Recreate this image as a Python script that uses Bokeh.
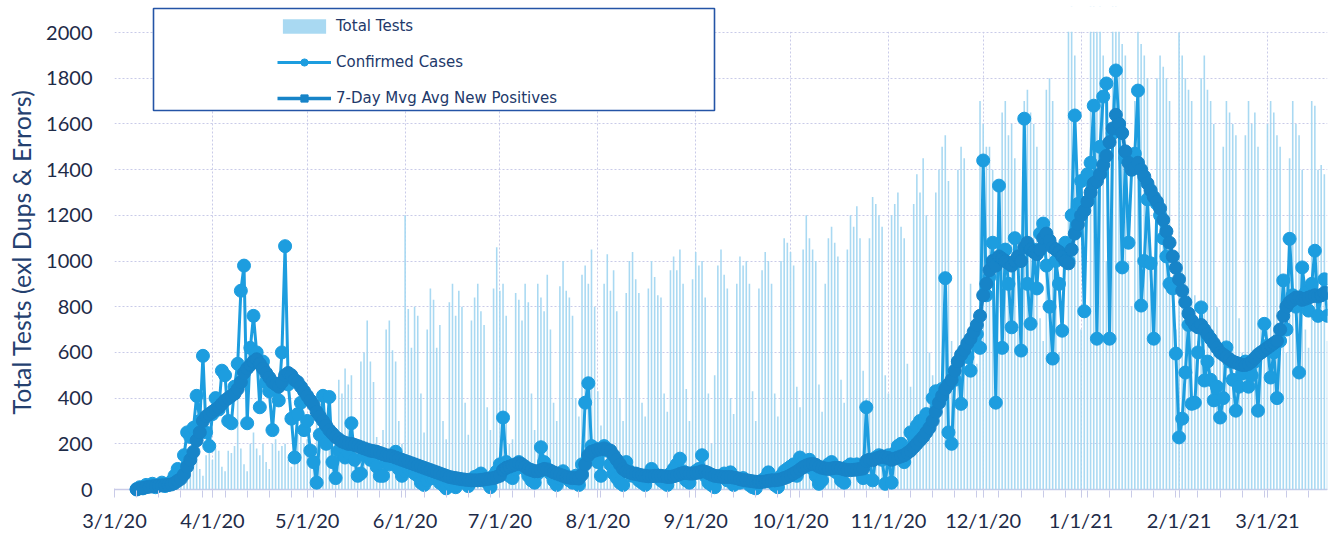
from datetime import datetime
from bokeh.plotting import figure
from bokeh.models import (ColumnDataSource, Range1d, FixedTicker, Legend, LegendItem,
                          BoxAnnotation, Span)
from bokeh.embed import file_html
from bokeh.resources import INLINE

# ---------------- data ----------------
first_day = "3/8/20"
tick_labels = ["3/1/20", "4/1/20", "5/1/20", "6/1/20", "7/1/20", "8/1/20", "9/1/20",
               "10/1/20", "11/1/20", "12/1/20", "1/1/21", "2/1/21", "3/1/21"]
y_ticks = [0, 200, 400, 600, 800, 1000, 1200, 1400, 1600, 1800, 2000]
y_max = 2000

# daily totals, one row per week (Sun..Sat), 3/8/20 .. 3/20/21
total_tests = [
    0, 0, 0, 0, 0, 0, 0,
    0, 0, 0, 10, 20, 30, 20,
    40, 120, 130, 150, 140, 170, 90,
    60, 150, 160, 130, 180, 170, 100,
    80, 170, 160, 190, 400, 180, 110,
    80, 200, 250, 180, 150, 200, 120,
    90, 200, 220, 170, 190, 200, 130,
    100, 210, 240, 380, 200, 220, 130,
    110, 300, 350, 380, 300, 250, 150,
    120, 480, 420, 530, 460, 500, 200,
    150, 560, 600, 740, 560, 470, 230,
    120, 260, 700, 740, 610, 560, 300,
    200, 1200, 790, 620, 800, 760, 420,
    250, 700, 880, 830, 620, 720, 300,
    220, 820, 900, 760, 870, 800, 380,
    240, 740, 840, 900, 780, 720, 360,
    260, 880, 1060, 870, 900, 760, 200,
    220, 860, 830, 740, 900, 820, 420,
    260, 900, 840, 780, 940, 700, 380,
    300, 890, 1000, 870, 840, 760, 400,
    320, 940, 980, 900, 1050, 800, 430,
    280, 900, 1030, 870, 960, 780, 400,
    300, 860, 1000, 1040, 920, 860, 380,
    320, 880, 1000, 930, 850, 840, 420,
    340, 960, 1020, 960, 1050, 900, 440,
    300, 920, 1040, 980, 1000, 840, 420,
    200, 500, 980, 1050, 940, 880, 400,
    330, 900, 1020, 980, 1000, 900, 430,
    300, 880, 960, 1040, 1000, 900, 420,
    320, 1000, 1100, 1080, 1040, 980, 450,
    360, 1050, 1200, 1100, 1050, 1000, 460,
    340, 900, 1100, 1150, 1080, 1020, 480,
    380, 1050, 1200, 1150, 1240, 1100, 520,
    400, 1100, 1280, 1250, 1200, 1150, 500,
    420, 1200, 1250, 1300, 1150, 1100, 550,
    450, 1250, 1380, 1300, 1450, 1200, 600,
    500, 1300, 1400, 1500, 1550, 1350, 650,
    520, 1400, 1500, 1450, 600, 900, 650,
    550, 1700, 1600, 1500, 1500, 1400, 700,
    600, 1650, 1700, 1550, 1600, 1450, 700,
    620, 1700, 1750, 1650, 1600, 1500, 750,
    650, 1750, 1800, 1700, 900, 600, 700,
    700, 2100, 2200, 1900, 1100, 700, 1000,
    800, 2200, 2300, 2100, 2200, 1900, 1000,
    850, 2200, 2300, 2100, 1950, 1900, 1000,
    800, 1700, 2100, 1950, 1900, 1800, 900,
    750, 1800, 1900, 1850, 1800, 1700, 900,
    700, 2000, 1900, 1800, 1750, 1700, 850,
    650, 1800, 1900, 1750, 1700, 1600, 800,
    600, 1500, 1700, 1650, 1600, 1550, 750,
    600, 1550, 1700, 1600, 1650, 1500, 700,
    580, 1600, 1700, 1650, 1550, 1500, 650,
    600, 1450, 1700, 1600, 1550, 1400, 700,
    620, 1700, 1680, 1400, 1420, 1380, 650,
]

confirmed_cases = (
    [2, 10, 5, 20, 15, 25, 10, 20, 30, 15, 20, 35, 60, 90, 80, 150, 250, 230, 270, 410,
     300, 585, 250, 190]                                                        # Mar 20
    + [330, 400, 350, 520, 500, 300, 290, 450, 550, 870, 980, 290, 620, 760, 600, 360,
       560, 470, 430, 260, 440, 390, 600, 1065, 460, 310, 140, 330, 380, 260]   # Apr
    + [300, 170, 120, 30, 240, 410, 200, 405, 120, 50, 170, 190, 140, 160, 290, 130, 60,
       70, 150, 160, 130, 140, 100, 60, 60, 120, 110, 150, 165, 90, 60]         # May
    + [80, 90, 100, 70, 60, 30, 20, 40, 55, 50, 60, 30, 20, 5, 30, 40, 10, 45, 35, 30,
       15, 40, 55, 60, 70, 50, 30, 10, 60, 80]                                  # Jun
    + [110, 315, 120, 60, 50, 90, 120, 100, 90, 60, 40, 30, 70, 185, 120, 90, 70, 40,
       20, 50, 80, 60, 40, 30, 60, 20, 110, 380, 465, 190, 180]                 # Jul
    + [120, 60, 190, 170, 110, 70, 50, 30, 20, 120, 80, 60, 70, 40, 30, 20, 60, 90, 70,
       60, 40, 30, 20, 70, 90, 110, 135, 80, 40, 30, 70]                        # Aug
    + [80, 90, 150, 60, 30, 20, 10, 50, 60, 70, 40, 75, 20, 40, 30, 50, 40, 20, 10, 5,
       30, 40, 50, 75, 40, 20, 10, 60, 80, 90]                                  # Sep
    + [100, 110, 60, 140, 120, 100, 130, 90, 60, 25, 40, 90, 110, 120, 80, 70, 40, 30,
       100, 110, 90, 110, 80, 50, 360, 130, 40, 140, 150, 130, 25]              # Oct
    + [150, 30, 160, 190, 200, 120, 170, 250, 230, 280, 300, 250, 330, 300, 400, 430,
       380, 440, 925, 250, 200, 480, 560, 375, 600, 580, 520, 640, 680, 620]    # Nov
    + [1440, 850, 930, 1080, 380, 1330, 620, 1050, 900, 710, 1100, 1000, 608, 1623, 900,
       725, 1050, 880, 1120, 1164, 980, 800, 573, 1000, 900, 695, 1080, 1000, 1200,
       1637, 1250]                                                              # Dec
    + [1350, 780, 1380, 1430, 1680, 660, 1500, 1720, 1777, 660, 1560, 1834, 1600, 972,
       1450, 1080, 1400, 1470, 1746, 805, 1000, 1270, 990, 660, 1250, 1200, 1100, 1020,
       900, 880, 595]                                                           # Jan 21
    + [228, 310, 512, 720, 375, 380, 600, 797, 477, 560, 480, 390, 450, 315, 400, 622,
       560, 480, 345, 450, 507, 560, 450, 500, 560, 345, 600, 725]              # Feb
    + [630, 490, 600, 400, 650, 915, 700, 1097, 850, 800, 512, 972, 860, 783, 900, 1045,
       760, 850, 920, 760]                                                      # Mar 21
)

avg_7day = (
    [0, 5, 7, 10, 12, 14, 15, 17, 18, 19, 20, 22, 28, 38, 47, 66, 100, 130, 165, 215,
     250, 300, 320, 330]
    + [340, 350, 360, 375, 390, 400, 410, 420, 440, 470, 510, 530, 545, 560, 570, 550,
       530, 510, 490, 470, 460, 450, 470, 500, 510, 500, 480, 470, 450, 430]
    + [410, 390, 370, 340, 320, 300, 280, 260, 245, 230, 220, 210, 205, 200, 200, 195,
       190, 185, 180, 175, 170, 168, 165, 160, 155, 150, 148, 145, 140, 135, 130]
    + [125, 120, 115, 110, 105, 100, 95, 90, 85, 80, 75, 70, 65, 60, 55, 52, 50, 47, 45,
       43, 42, 40, 40, 40, 42, 44, 46, 48, 50, 55]
    + [60, 85, 95, 100, 105, 110, 115, 110, 100, 90, 85, 80, 80, 85, 90, 88, 82, 75, 70,
       65, 60, 55, 52, 50, 50, 48, 65, 110, 150, 165, 170]
    + [175, 175, 180, 175, 170, 150, 130, 110, 90, 80, 75, 70, 68, 65, 62, 60, 58, 58,
       60, 60, 60, 58, 55, 55, 58, 62, 68, 72, 72, 70, 70]
    + [72, 75, 80, 78, 72, 65, 60, 58, 56, 55, 55, 55, 52, 50, 45, 42, 40, 38, 36, 34,
       33, 33, 35, 38, 40, 40, 42, 45, 50, 55]
    + [62, 70, 78, 88, 98, 105, 110, 112, 108, 100, 95, 92, 90, 92, 95, 95, 92, 88, 85,
       85, 86, 88, 90, 92, 125, 130, 128, 135, 140, 145, 140]
    + [138, 130, 135, 140, 145, 150, 160, 170, 185, 200, 215, 230, 250, 270, 300, 340,
       380, 410, 440, 460, 480, 520, 560, 590, 610, 640, 660, 690, 720, 760]
    + [850, 900, 960, 1000, 980, 1020, 1010, 1000, 990, 980, 1000, 1020, 1000, 1060,
       1080, 1050, 1040, 1030, 1050, 1100, 1120, 1090, 1060, 1050, 1040, 1020, 1000, 990,
       1050, 1120, 1160]
    + [1200, 1220, 1260, 1300, 1340, 1350, 1380, 1420, 1460, 1520, 1580, 1640, 1600,
       1560, 1480, 1430, 1400, 1410, 1430, 1400, 1370, 1340, 1310, 1280, 1260, 1230,
       1180, 1130, 1080, 1020, 970]
    + [920, 870, 820, 770, 740, 720, 710, 720, 700, 680, 660, 640, 620, 600, 590, 580,
       570, 560, 555, 550, 545, 545, 550, 560, 575, 590, 600, 610]
    + [620, 630, 640, 650, 700, 760, 800, 820, 830, 840, 840, 830, 835, 840, 845, 850,
       845, 850, 860, 860]
)

# ---------------- positions derived from the dates ----------------
fmt = "%m/%d/%y"
base = datetime.strptime(tick_labels[0], fmt)
offset = (datetime.strptime(first_day, fmt) - base).days
xs = [offset + i for i in range(len(confirmed_cases))]
tick_pos = [(datetime.strptime(t, fmt) - base).days for t in tick_labels]
week_pos = xs[::7]

src = ColumnDataSource(dict(x=xs, tests=total_tests, cases=confirmed_cases, avg=avg_7day))

FONT = "Lato"
GRID = "#c9cbe8"
CASES = "#1d9ddf"
AVG = "#1784c8"
BAR = "#a4d7f1"

# frame spans a little above the 2000 line so the legend box can sit over it
p = figure(width=1330, height=534, output_backend="svg", toolbar_location=None,
           x_range=Range1d(0, 384), y_range=Range1d(-35, 2114),
           min_border_left=114, min_border_right=3, min_border_top=6, min_border_bottom=37)
p.outline_line_color = None
p.background_fill_color = "white"
p.border_fill_color = "white"

# axes
p.xaxis.ticker = FixedTicker(ticks=tick_pos, minor_ticks=week_pos)
p.xaxis.major_label_overrides = {tp: lab for tp, lab in zip(tick_pos, tick_labels)}
p.xaxis.axis_line_color = None
p.xaxis.major_tick_in = 9
p.xaxis.major_tick_out = 0
p.xaxis.minor_tick_in = 7
p.xaxis.minor_tick_out = 0
p.xaxis.major_tick_line_color = GRID
p.xaxis.minor_tick_line_color = GRID
p.xaxis.major_label_text_font = FONT
p.xaxis.major_label_text_font_size = "20px"
p.xaxis.major_label_text_color = "#1e2b48"
p.xaxis.major_label_standoff = 10

p.yaxis.ticker = FixedTicker(ticks=y_ticks)
p.yaxis.axis_line_color = None
p.yaxis.major_tick_line_color = None
p.yaxis.minor_tick_line_color = None
p.yaxis.major_label_text_font = FONT
p.yaxis.major_label_text_font_size = "20px"
p.yaxis.major_label_text_color = "#1e2b48"
p.yaxis.major_label_standoff = 16
p.yaxis.axis_label = "Total Tests (exl Dups & Errors)"
p.yaxis.axis_label_text_font = FONT
p.yaxis.axis_label_text_font_size = "25px"
p.yaxis.axis_label_text_font_style = "normal"
p.yaxis.axis_label_text_color = "#24406f"
p.yaxis.axis_label_standoff = 7

p.xgrid.grid_line_color = GRID
p.xgrid.grid_line_dash = "2 2"
p.ygrid.grid_line_color = GRID
p.ygrid.grid_line_dash = "2 2"

p.add_layout(Span(location=0, dimension="width", line_color=GRID, line_width=1.5,
                  level="underlay"))

bars = p.vbar(x="x", top="tests", width=0.5, source=src, fill_color=BAR,
              line_color=None, fill_alpha=0.95)
c_line = p.line("x", "cases", source=src, line_color=CASES, line_width=3)
c_pts = p.scatter("x", "cases", source=src, marker="circle", size=13,
                  fill_color=CASES, line_color=CASES)
a_line = p.line("x", "avg", source=src, line_color=AVG, line_width=3.5)
a_pts = p.scatter("x", "avg", source=src, marker="circle", size=13,
                  fill_color=AVG, line_color=AVG)
a_leg = p.scatter("x", "avg", source=src, marker="square", size=9,
                  fill_color=AVG, line_color=AVG, visible=False)

# blank out everything above the top of the value axis
p.add_layout(BoxAnnotation(bottom=y_max + 3, fill_color="white", fill_alpha=1.0,
                           line_color=None))

box = BoxAnnotation(left=153, right=714, top=8, bottom=110,
                    left_units="canvas", right_units="canvas",
                    top_units="canvas", bottom_units="canvas",
                    fill_color="white", fill_alpha=1.0,
                    line_color="#2454a6", line_alpha=1.0, line_width=1.6)
p.add_layout(box)

legend = Legend(items=[
    LegendItem(label="Total Tests", renderers=[bars]),
    LegendItem(label="Confirmed Cases", renderers=[c_line, c_pts]),
    LegendItem(label="7-Day Mvg Avg New Positives", renderers=[a_line, a_leg]),
], location=(163, 390), padding=0, spacing=18, glyph_width=54, glyph_height=18,
   label_height=18, label_standoff=5, border_line_color=None,
   background_fill_alpha=0.0, label_text_font="DejaVu Sans",
   label_text_font_size="15px", label_text_color="#22396a")
p.add_layout(legend)

open("out.html", "w").write(file_html(p, INLINE))
